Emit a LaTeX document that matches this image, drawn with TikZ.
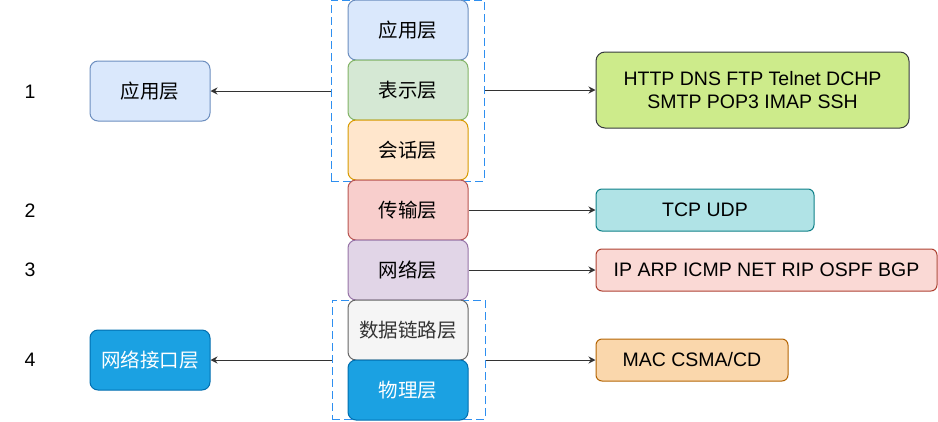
\documentclass[tikz,border=0pt]{standalone}
\usepackage{fontspec}
\setmainfont{Liberation Sans}
\newfontfamily\cjk{Noto Sans CJK SC}
\usetikzlibrary{arrows.meta}
\definecolor{blueF}{HTML}{DAE8FC}\definecolor{blueS}{HTML}{6C8EBF}
\definecolor{greenF}{HTML}{D5E8D4}\definecolor{greenS}{HTML}{82B366}
\definecolor{orangeF}{HTML}{FFE6CC}\definecolor{orangeS}{HTML}{D79B00}
\definecolor{redF}{HTML}{F8CECC}\definecolor{redS}{HTML}{B85450}
\definecolor{purpleF}{HTML}{E1D5E7}\definecolor{purpleS}{HTML}{9673A6}
\definecolor{grayF}{HTML}{F5F5F5}\definecolor{grayS}{HTML}{666666}\definecolor{grayT}{HTML}{333333}
\definecolor{physF}{HTML}{1BA1E2}\definecolor{physS}{HTML}{006EAF}
\definecolor{limeF}{HTML}{CDEB8B}\definecolor{limeS}{HTML}{36393D}
\definecolor{tealF}{HTML}{B0E3E6}\definecolor{tealS}{HTML}{0E8088}
\definecolor{pinkF}{HTML}{FAD9D5}\definecolor{pinkS}{HTML}{AE4132}
\definecolor{peachF}{HTML}{FAD7AC}\definecolor{peachS}{HTML}{B46504}
\definecolor{dashC}{HTML}{2E8FF0}
\definecolor{lineC}{HTML}{333333}
\tikzset{
  layer/.style={draw, line width=1pt, rounded corners=8pt, minimum width=120pt, minimum height=60pt, inner sep=0pt, font=\fontsize{19.5}{23}\selectfont\cjk},
  proto/.style={draw, line width=1pt, rounded corners=6pt, minimum height=42pt, inner sep=0pt, font=\fontsize{19.5}{23}\selectfont, align=center},
  numlbl/.style={font=\fontsize{19.5}{23}\selectfont},
  grp/.style={draw=dashC, line width=1pt, dash pattern=on 8pt off 4pt, inner sep=0pt},
  arr/.style={draw=lineC, line width=1pt, -{Stealth[length=7pt,width=7pt]}},
}
\begin{document}
\begin{tikzpicture}[x=1pt,y=-1pt]
\useasboundingbox (0,0) rectangle (938,421);
% dashed groups (behind the layers)
\node[grp, minimum width=153pt, minimum height=181pt] (g1) at (407.5,90.5) {};
\node[grp, minimum width=153pt, minimum height=119pt] (g2) at (408.5,359.5) {};
% central stack
\node[layer, fill=blueF, draw=blueS] (app) at (408,30) {应用层};
\node[layer, fill=greenF, draw=greenS] (pres) at (408,90) {表示层};
\node[layer, fill=orangeF, draw=orangeS] (sess) at (408,150) {会话层};
\node[layer, fill=redF, draw=redS] (trans) at (408,210) {传输层};
\node[layer, fill=purpleF, draw=purpleS] (net) at (408,270) {网络层};
\node[layer, fill=grayF, draw=grayS, text=grayT] (link) at (408,330) {数据链路层};
\node[layer, fill=physF, draw=physS, text=white] (phys) at (408,390) {物理层};
% left boxes
\node[layer, fill=blueF, draw=blueS] (lapp) at (150,91) {应用层};
\node[layer, fill=physF, draw=physS, text=white] (lnet) at (150,360) {网络接口层};
% numbers
\node[numlbl] (n1) at (30,92) {1};
\node[numlbl] (n2) at (30,211) {2};
\node[numlbl] (n3) at (30,270) {3};
\node[numlbl] (n4) at (30,360) {4};
% right boxes
\node[proto, fill=limeF, draw=limeS, minimum width=313pt, minimum height=76pt, rounded corners=9pt] (p1) at (752.5,90) {HTTP DNS FTP Telnet DCHP\\SMTP POP3 IMAP SSH};
\node[proto, fill=tealF, draw=tealS, minimum width=218pt] (p2) at (705,210) {TCP UDP};
\node[proto, fill=pinkF, draw=pinkS, minimum width=341pt] (p3) at (766.5,270) {IP ARP ICMP NET RIP OSPF BGP};
\node[proto, fill=peachF, draw=peachS, minimum width=192pt] (p4) at (692,360) {MAC CSMA/CD};
% connectors
\draw[arr] (g1.west |- lapp) -- (lapp.east);
\draw[arr] (g1.east |- p1) -- (p1.west);
\draw[arr] (trans.east) -- (p2.west);
\draw[arr] (net.east) -- (p3.west);
\draw[arr] (g2.west |- lnet) -- (lnet.east);
\draw[arr] (g2.east |- p4) -- (p4.west);
\end{tikzpicture}
\end{document}
